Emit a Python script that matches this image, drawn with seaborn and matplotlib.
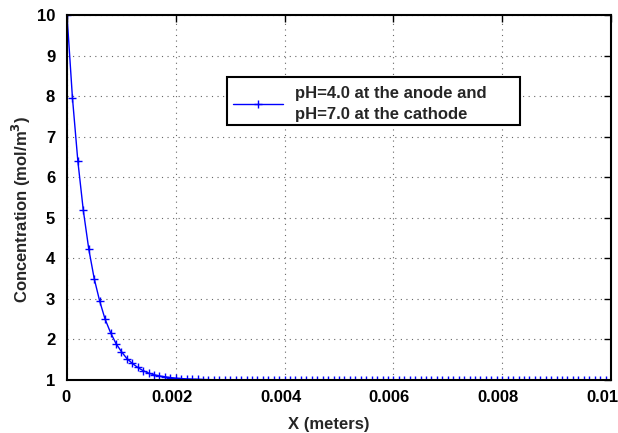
import numpy as np
import matplotlib
matplotlib.use("Agg")
import matplotlib.pyplot as plt
import matplotlib.transforms as mtransforms
from matplotlib.patches import Rectangle
import seaborn as sns

# Data
x_m = np.linspace(0.0, 0.01, 101)
conc = [
    10.0, 7.96, 6.39, 5.18, 4.23, 3.50, 2.95, 2.50, 2.17, 1.90,
    1.70, 1.53, 1.41, 1.31, 1.23, 1.17, 1.13, 1.10, 1.08, 1.06,
    1.045, 1.035, 1.027, 1.02, 1.016, 1.012, 1.009, 1.007, 1.005, 1.004,
    1.003, 1.002, 1.002, 1.001, 1.001, 1.001, 1.0, 1.0, 1.0, 1.0,
    1.0, 1.0, 1.0, 1.0, 1.0, 1.0, 1.0, 1.0, 1.0, 1.0,
    1.0, 1.0, 1.0, 1.0, 1.0, 1.0, 1.0, 1.0, 1.0, 1.0,
    1.0, 1.0, 1.0, 1.0, 1.0, 1.0, 1.0, 1.0, 1.0, 1.0,
    1.0, 1.0, 1.0, 1.0, 1.0, 1.0, 1.0, 1.0, 1.0, 1.0,
    1.0, 1.0, 1.0, 1.0, 1.0, 1.0, 1.0, 1.0, 1.0, 1.0,
    1.0, 1.0, 1.0, 1.0, 1.0, 1.0, 1.0, 1.0, 1.0, 1.0,
    1.0,
]
series_label = "pH=4.0 at the anode and\npH=7.0 at the cathode"
xticks = [0, 0.002, 0.004, 0.006, 0.008, 0.01]
xtick_labels = ["0", "0.002", "0.004", "0.006", "0.008", "0.01"]
yticks = [1, 2, 3, 4, 5, 6, 7, 8, 9, 10]

sns.set_style("white")
plt.rcParams["font.family"] = ["Liberation Sans", "DejaVu Sans"]
plt.rcParams["font.weight"] = "bold"

W, H = 618, 433
fig = plt.figure(figsize=(W / 100, H / 100), dpi=100)
ax = fig.add_axes([67 / W, 1 - 380 / H, (611 - 67) / W, (380 - 15) / H])

sns.lineplot(x=x_m, y=conc, ax=ax, color="#0000ff", linewidth=1.0,
             marker="+", markersize=6, markeredgewidth=1.0,
             markeredgecolor="#0000ff", label=series_label)

ax.set_xlim(0, 0.01)
ax.set_ylim(1, 10)
ax.set_xticks(xticks)
ax.set_xticklabels(xtick_labels)
ax.set_yticks(yticks)
ax.tick_params(direction="in", length=5, width=1, top=True, right=True,
               labelsize=12, colors="black")
ax.tick_params(axis="x", pad=7)
ax.tick_params(axis="y", pad=8.5)
xlabs = ax.get_xticklabels()
for i, lab in enumerate(xlabs):
    lab.set_fontweight("bold")
    dx = -9 if i == len(xlabs) - 1 else (-1 if i == 0 else -4)
    lab.set_transform(lab.get_transform() +
                      mtransforms.ScaledTranslation(dx / 100, 0, fig.dpi_scale_trans))
for lab in ax.get_yticklabels():
    lab.set_fontweight("bold")

ax.grid(True, linestyle=(0, (1, 4)), color="#666666", linewidth=0.8)
for sp in ax.spines.values():
    sp.set_visible(True)
    sp.set_color("black")
    sp.set_linewidth(1.5)

ax.set_xlabel("X (meters)", fontsize=12, fontweight="bold")
ax.set_ylabel("Concentration (mol/m$^\\mathbf{3}$)", fontsize=12,
              fontweight="bold")
ax.xaxis.set_label_coords(329 / W, 1 - 424 / H, transform=fig.transFigure)
ax.xaxis.label.set_va("center")
ax.yaxis.set_label_coords(21 / W, 1 - 209 / H, transform=fig.transFigure)
ax.yaxis.label.set_va("center")

# legend box drawn as a plain rectangle (wider than the text, as in the reference)
box = Rectangle((227 / W, 1 - 125 / H), (520 - 227) / W, (125 - 77) / H,
                transform=fig.transFigure, facecolor="white",
                edgecolor="black", linewidth=1.5, zorder=5, clip_on=False)
ax.add_patch(box)

leg = ax.legend(loc="center left", bbox_to_anchor=(227 / W, 1 - 104 / H),
                bbox_transform=fig.transFigure, borderaxespad=0,
                frameon=False,
                prop={"weight": "bold", "size": 12}, handlelength=3.0,
                labelspacing=0.1, borderpad=0.35, handletextpad=0.75)
leg.set_zorder(6)
for t in leg.get_texts():
    t.set_linespacing(1.45)
for h in leg.legend_handles:
    h.set_markevery([1])

fig.savefig("out.png", dpi=100)
